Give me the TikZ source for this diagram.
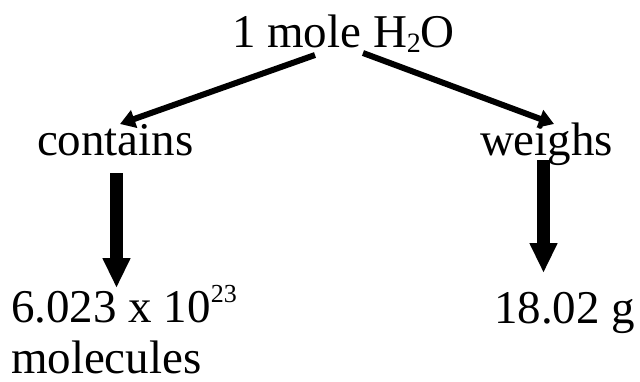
\documentclass[tikz,border=0pt]{standalone}
\usepackage{fontspec}
\setmainfont{Liberation Serif}
\usetikzlibrary{arrows.meta}
\tikzset{
  lbl/.style={anchor=base west,inner sep=0pt,outer sep=0pt,font=\fontsize{47}{52}\selectfont},
  diag/.style={line width=6pt,-{Triangle[length=15pt,width=18pt]}},
  vert/.style={line width=13.5pt,-{Triangle[length=30pt,width=26pt]}}
}
\begin{document}
\begin{tikzpicture}[x=1pt,y=-1pt]
\useasboundingbox (0,0) rectangle (640,381);
\node[lbl] (top) at (232,47) {1 mole H\raisebox{-5pt}{\fontsize{28}{28}\selectfont 2}O};
\node[lbl] (cont) at (37,155) {contains};
\node[lbl] (weig) at (480,155) {weighs};
\node[lbl] (num) at (11,322) {6.023 x 10\raisebox{20pt}{\fontsize{26}{26}\selectfont 23}};
\node[lbl] (mol) at (11,373) {molecules};
\node[lbl] (mass) at (494,323) {18.02 g};
\coordinate (a1) at (315,55);
\coordinate (a2) at (120,124);
\coordinate (b1) at (363,53);
\coordinate (b2) at (554,124);
\coordinate (c1) at (116.5,173);
\coordinate (c2) at (116.5,288);
\coordinate (d1) at (543.5,160);
\coordinate (d2) at (543.5,273);
\draw[diag] (a1) -- (a2);
\draw[diag] (b1) -- (b2);
\draw[vert] (c1) -- (c2);
\draw[vert] (d1) -- (d2);
\end{tikzpicture}
\end{document}
